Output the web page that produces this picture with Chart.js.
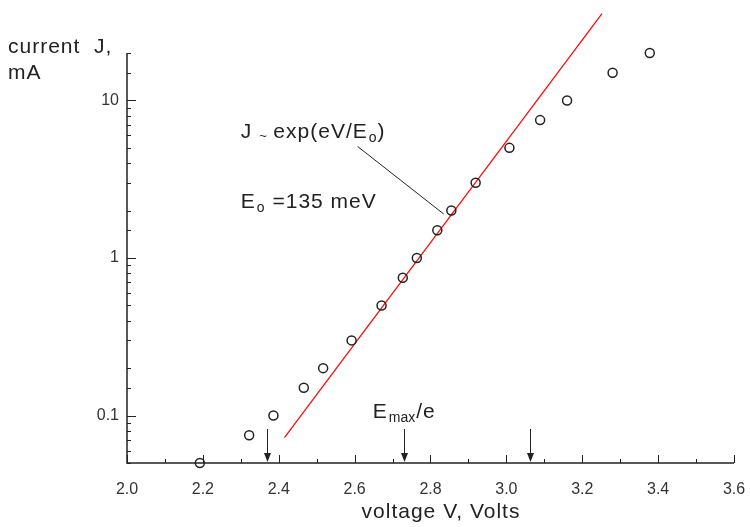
<!DOCTYPE html>
<html>
<head>
<meta charset="utf-8">
<title>current vs voltage</title>
<script src="https://cdn.jsdelivr.net/npm/chart.js@4.4.1/dist/chart.umd.min.js"></script>
<style>
  html, body { margin: 0; padding: 0; background: #fff; }
  #wrap { width: 750px; height: 527px; }
</style>
</head>
<body>
<div id="wrap"><canvas id="jvChart"></canvas></div>
<script>
// measured points, voltage in V, current in mA
const voltage = [2.192, 2.322, 2.386, 2.466, 2.517, 2.592, 2.671, 2.727, 2.764,
                 2.818, 2.855, 2.919, 3.008, 3.089, 3.160, 3.280, 3.378];
const current = [0.05, 0.075, 0.1, 0.15, 0.2, 0.3, 0.5, 0.75, 1.0,
                 1.5, 2.0, 3.0, 5.0, 7.5, 10, 15, 20];

// exponential fit, J ~ exp(eV/E0), E0 = 135 meV
const fitV = [2.415, 3.252];
const fitJ = [0.0725, 35.5];

// axis ranges / labels
const xMin = 2.0, xMax = 3.6, xStep = 0.2;
const yMin = 0.05, yMax = 20;
const yLabelled = [0.1, 1, 10];

// arrows on the voltage axis
const arrowV = [2.37, 2.73, 3.062];

const FONT = '"Liberation Sans", Arial, sans-serif';
const INK = '#222';

function setFont(ctx, size) {
  ctx.font = size + 'px ' + FONT;
  ctx.letterSpacing = size > 14 ? '1px' : '0px';
}

function drawSub(ctx, x, y, main, sub, size) {
  // text with a small lowered subscript, returns new x
  setFont(ctx, size);
  ctx.fillText(main, x, y);
  x += ctx.measureText(main).width;
  setFont(ctx, Math.round(size * 0.68));
  ctx.fillText(sub, x + 1, y + 4);
  x += ctx.measureText(sub).width + 2;
  setFont(ctx, size);
  return x;
}

const extras = {
  id: 'extras',
  afterDatasetsDraw(chart) {
    const ctx = chart.ctx;
    const xs = chart.scales.x, ys = chart.scales.y;
    const a = chart.chartArea;
    ctx.save();
    ctx.strokeStyle = INK;
    ctx.fillStyle = INK;
    ctx.lineWidth = 1.5;

    // axis lines
    ctx.beginPath();
    ctx.moveTo(a.left, a.top);
    ctx.lineTo(a.left, a.bottom);
    ctx.lineTo(a.right, a.bottom);
    ctx.stroke();

    // x ticks, pointing inwards
    ctx.lineWidth = 1;
    ctx.beginPath();
    for (let i = 0; i <= Math.round((xMax - xMin) / 0.1); i++) {
      const v = xMin + i * 0.1;
      const px = Math.round(xs.getPixelForValue(v)) + 0.5;
      const len = i % 2 === 0 ? 8 : 4;
      ctx.moveTo(px, a.bottom);
      ctx.lineTo(px, a.bottom - len);
    }
    // y ticks (log decades)
    ys.ticks.forEach(t => {
      const py = Math.round(ys.getPixelForValue(t.value)) + 0.5;
      const len = yLabelled.includes(t.value) ? 9 : 4;
      ctx.moveTo(a.left, py);
      ctx.lineTo(a.left + len, py);
    });
    ctx.stroke();

    // arrows
    arrowV.forEach(v => {
      const px = Math.round(xs.getPixelForValue(v)) + 0.5;
      ctx.beginPath();
      ctx.moveTo(px, a.bottom - 34);
      ctx.lineTo(px, a.bottom - 8);
      ctx.stroke();
      ctx.beginPath();
      ctx.moveTo(px - 3.5, a.bottom - 10);
      ctx.lineTo(px + 3.5, a.bottom - 10);
      ctx.lineTo(px, a.bottom - 1);
      ctx.closePath();
      ctx.fill();
    });

    // leader line to the fit
    ctx.beginPath();
    ctx.moveTo(xs.getPixelForValue(2.608), ys.getPixelForValue(5.1));
    ctx.lineTo(xs.getPixelForValue(2.835), ys.getPixelForValue(1.9));
    ctx.stroke();

    // annotations
    ctx.textBaseline = 'alphabetic';
    ctx.textAlign = 'left';
    let x = xs.getPixelForValue(2.30);
    let y = ys.getPixelForValue(5.8);
    setFont(ctx, 21);
    ctx.fillText('J', x, y);
    x += ctx.measureText('J ').width;
    setFont(ctx, 13);
    ctx.fillText('~', x, y + 2);
    x += ctx.measureText('~ ').width + 3;
    x = drawSub(ctx, x, y, 'exp(eV/E', 'o', 21);
    ctx.fillText(')', x, y);

    x = xs.getPixelForValue(2.30);
    y = ys.getPixelForValue(2.07);
    x = drawSub(ctx, x, y, 'E', 'o', 21);
    ctx.fillText(' =135 meV', x, y);

    x = xs.getPixelForValue(2.648);
    y = ys.getPixelForValue(0.097);
    x = drawSub(ctx, x, y, 'E', 'max', 21);
    ctx.fillText('/e', x, y);

    // axis titles
    setFont(ctx, 21);
    ctx.fillText('current  J,', 8, 53);
    ctx.fillText('mA', 8, 79);
    ctx.textAlign = 'center';
    ctx.fillText('voltage V, Volts', 441, 518);
    ctx.restore();
  }
};

new Chart(document.getElementById('jvChart'), {
  type: 'scatter',
  data: {
    datasets: [
      {
        label: 'measured',
        data: voltage.map((v, i) => ({ x: v, y: current[i] })),
        pointStyle: 'circle',
        pointRadius: 4.5,
        pointBorderWidth: 1.5,
        pointBorderColor: INK,
        pointBackgroundColor: 'rgba(255,255,255,0)',
        showLine: false,
        clip: false
      },
      {
        label: 'fit',
        data: fitV.map((v, i) => ({ x: v, y: fitJ[i] })),
        showLine: true,
        borderColor: '#ff0000',
        borderWidth: 1.2,
        pointRadius: 0,
        clip: false
      }
    ]
  },
  options: {
    responsive: true,
    maintainAspectRatio: false,
    animation: false,
    layout: { padding: { top: 53, right: 16, left: 0, bottom: 0 } },
    plugins: { legend: { display: false }, tooltip: { enabled: false } },
    scales: {
      x: {
        type: 'linear',
        min: xMin, max: xMax,
        grid: { display: false },
        border: { display: false },
        ticks: {
          stepSize: xStep,
          padding: 9,
          color: '#333',
          font: { family: FONT, size: 16 },
          callback: v => v.toFixed(1)
        },
        afterFit: s => { s.height = 64; s.paddingLeft = 0; s.paddingRight = 0; }
      },
      y: {
        type: 'logarithmic',
        min: yMin, max: yMax,
        grid: { display: false },
        border: { display: false },
        ticks: {
          autoSkip: false,
          padding: 0,
          color: '#333',
          font: { family: FONT, size: 16 },
          callback: v => yLabelled.includes(v) ? String(v) : ''
        },
        afterFit: s => { s.width = 127; s.paddingTop = 0; s.paddingBottom = 0; }
      }
    }
  },
  plugins: [extras]
});
</script>
</body>
</html>
